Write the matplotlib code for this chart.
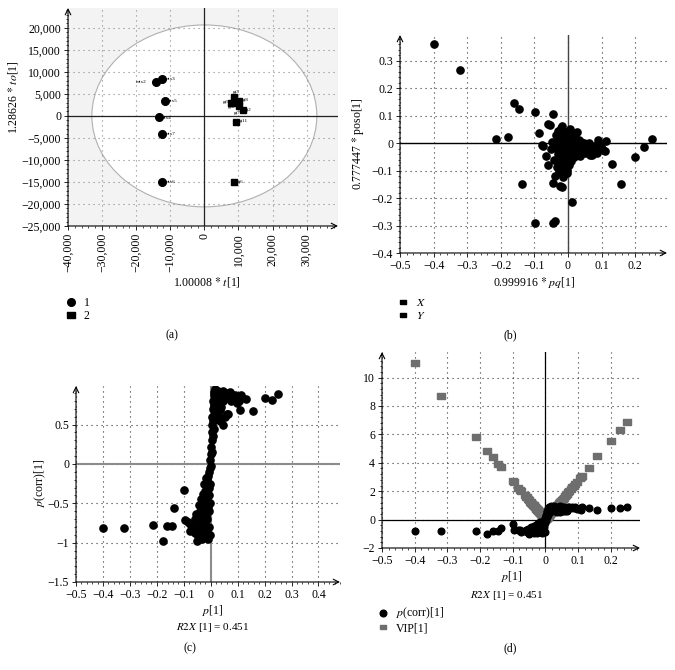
import matplotlib
matplotlib.use('Agg')
import matplotlib.pyplot as plt
from matplotlib.patches import Ellipse
from matplotlib.lines import Line2D
from matplotlib.ticker import FuncFormatter, AutoMinorLocator, MultipleLocator

plt.rcParams['font.family'] = ['Liberation Serif', 'DejaVu Serif']
plt.rcParams['mathtext.fontset'] = 'stix'

# (a) OPLS-DA score plot
mix_names = ['mix2', 'mix3', 'mix5', 'mix4', 'mix7', 'mix6']
mix_t = [-14300, -12300, -11600, -13300, -12300, -12300]
mix_to = [7800, 8300, 3400, -150, -4000, -14900]
gt_names = ['gt3', 'gt5', 'gt8', 'gt4', 'gt7', 'gt2', 'gt11', 'gt6']
gt_t = [8800, 7900, 10200, 9300, 10100, 11200, 9200, 8600]
gt_to = [4300, 3000, 3400, 2900, 2200, 1400, -1450, -15100]

# (b)-(d) loadings of the variables
p1 = [-0.400, -0.320, -0.213, -0.178, -0.162, -0.145, -0.137, -0.098, -0.097, -0.085,
      -0.078, -0.075, -0.064, -0.059, -0.058, -0.054, -0.050, -0.046, -0.045, -0.044,
      -0.043, -0.040, -0.038, -0.037, -0.036, -0.034, -0.032, -0.030, -0.029, -0.028,
      -0.026, -0.025, -0.024, -0.022, -0.021, -0.020, -0.018, -0.018, -0.017, -0.016,
      -0.015, -0.014, -0.013, -0.012, -0.011, -0.010, -0.009, -0.008, -0.007, -0.006,
      -0.005, -0.004, -0.003, -0.003, -0.002, -0.001, 0.000, 0.001, 0.002, 0.003,
      0.004, 0.005, 0.006, 0.007, 0.008, 0.009, 0.010, 0.011, 0.012, 0.013,
      0.015, 0.016, 0.018, 0.019, 0.020, 0.022, 0.024, 0.025, 0.027, 0.028,
      0.030, 0.032, 0.034, 0.036, 0.038, 0.040, 0.042, 0.045, 0.047, 0.050,
      0.053, 0.056, 0.060, 0.063, 0.066, 0.070, 0.073, 0.077, 0.082, 0.086,
      0.091, 0.097, 0.105, 0.109, 0.113, 0.132, 0.158, 0.200, 0.228, 0.250,
      -0.035, -0.027, -0.019, -0.012, -0.006, 0.004, 0.012, 0.021, 0.033, 0.044]
poso1 = [0.360, 0.265, 0.017, 0.021, 0.145, 0.123, -0.147, 0.113, -0.290, 0.037,
         -0.005, -0.010, -0.046, 0.070, -0.079, 0.068, -0.020, 0.005, 0.108, -0.145,
         -0.290, -0.060, -0.121, -0.283, 0.030, -0.020, -0.085, 0.045, -0.040, 0.010,
         -0.070, -0.155, 0.025, -0.010, -0.100, 0.055, 0.063, -0.158, -0.030, -0.050,
         -0.015, -0.122, 0.035, -0.065, 0.000, -0.040, 0.020, -0.090, -0.005, 0.040,
         -0.025, -0.110, -0.097, 0.010, -0.060, 0.030, -0.015, -0.045, 0.005, -0.080,
         0.020, -0.030, 0.050, -0.010, -0.065, 0.015, -0.035, 0.000, -0.216, 0.025,
         -0.020, 0.005, -0.050, 0.030, -0.005, -0.030, 0.010, -0.015, 0.042, -0.040,
         0.000, -0.025, 0.012, -0.045, -0.010, 0.005, -0.030, -0.020, 0.002, -0.035,
         -0.005, -0.022, -0.030, 0.000, -0.043, -0.040, -0.043, -0.012, -0.025, -0.037,
         0.013, -0.010, -0.024, -0.027, 0.009, -0.077, -0.147, -0.052, -0.013, 0.014,
         0.000, -0.105, -0.075, -0.030, -0.008, -0.055, -0.018, 0.018, -0.008, -0.010]
pcorr1 = [-0.81, -0.81, -0.77, -0.98, -0.79, -0.79, -0.56, -0.33, -0.71, -0.74,
          -0.76, -0.85, -0.80, -0.70, -0.88, -0.64, -0.98, -0.92, -0.52, -0.75,
          -0.68, -0.60, -0.82, -0.90, -0.45, -0.95, -0.72, -0.38, -0.86, -0.55,
          -0.62, -0.92, -0.25, -0.78, -0.48, -0.35, -0.18, -0.66, -0.90, -0.42,
          -0.30, -0.85, -0.20, -0.70, -0.55, -0.95, -0.15, -0.60, -0.40, -0.10,
          -0.80, -0.50, -0.25, -0.05, -0.90, 0.05, 0.12, -0.02, 0.22, 0.30,
          0.40, 0.50, 0.60, 0.70, 0.35, 0.80, 0.55, 0.88, 0.45, 0.92,
          0.65, 0.95, 0.75, 0.85, 0.58, 0.90, 0.70, 0.82, 0.93, 0.62,
          0.88, 0.78, 0.85, 0.55, 0.92, 0.72, 0.86, 0.50, 0.80, 0.88,
          0.60, 0.90, 0.63, 0.84, 0.64, 0.88, 0.91, 0.80, 0.86, 0.83,
          0.87, 0.77, 0.80, 0.68, 0.87, 0.82, 0.67, 0.84, 0.81, 0.89,
          -0.65, -0.80, -0.58, -0.45, -0.30, 0.15, 0.75, 0.78, 0.68, 0.93]
vip1 = [11.0, 8.7, 5.8, 4.85, 4.4, 3.9, 3.7, 2.7, 2.65, 2.25,
        2.1, 2.0, 1.75, 1.6, 1.58, 1.48, 1.38, 1.27, 1.24, 1.2,
        1.18, 1.1, 1.05, 1.02, 1.0, 0.94, 0.88, 0.83, 0.8, 0.77,
        0.72, 0.69, 0.66, 0.61, 0.58, 0.55, 0.5, 0.5, 0.47, 0.44,
        0.41, 0.39, 0.36, 0.33, 0.3, 0.28, 0.25, 0.22, 0.19, 0.17,
        0.14, 0.11, 0.08, 0.08, 0.06, 0.03, 0.0, 0.03, 0.06, 0.08,
        0.11, 0.14, 0.17, 0.19, 0.22, 0.25, 0.28, 0.3, 0.33, 0.36,
        0.41, 0.44, 0.5, 0.52, 0.55, 0.61, 0.66, 0.69, 0.75, 0.77,
        0.83, 0.88, 0.94, 1.0, 1.05, 1.1, 1.16, 1.24, 1.3, 1.38,
        1.46, 1.55, 1.65, 1.74, 1.82, 1.93, 2.02, 2.12, 2.26, 2.37,
        2.5, 2.68, 2.9, 3.0, 3.1, 3.6, 4.45, 5.5, 6.3, 6.9,
        0.97, 0.75, 0.52, 0.33, 0.17, 0.11, 0.33, 0.58, 0.91, 1.21]

W, H = 675, 670
fig = plt.figure(figsize=(W / 100, H / 100), dpi=100)

# flat rectangle marker, like the ones in the original software
rect = [(-1, -0.7), (1, -0.7), (1, 0.7), (-1, 0.7), (-1, -0.7)]


def px_axes(x0, y0, x1, y1):
    return fig.add_axes([x0 / W, 1 - y1 / H, (x1 - x0) / W, (y1 - y0) / H])


def ftext(x, y, s, **kw):
    kw.setdefault('fontsize', 8.5)
    fig.text(x / W, 1 - y / H, s, ha='center', va='center', **kw)


def num_fmt(v, pos):
    if abs(v) < 1e-9:
        return '0'
    return f"{round(v, 3):g}".replace('-', '\u2212')


def comma_fmt(v, pos):
    if abs(v) < 1e-9:
        return '0'
    return f"{v:,.0f}".replace('-', '\u2212')


def style_axes(ax, xmaj, ymaj, fmtx, fmty, gridcol='#333333'):
    for s in ax.spines.values():
        s.set_visible(False)
    ax.annotate('', xy=(0, 1.0), xytext=(0, 0), xycoords='axes fraction',
                arrowprops=dict(arrowstyle='->', lw=0.8, color='k',
                                shrinkA=0, shrinkB=0))
    ax.annotate('', xy=(1.0, 0), xytext=(0, 0), xycoords='axes fraction',
                arrowprops=dict(arrowstyle='->', lw=0.8, color='k',
                                shrinkA=0, shrinkB=0))
    ax.xaxis.set_major_locator(MultipleLocator(xmaj))
    ax.yaxis.set_major_locator(MultipleLocator(ymaj))
    ax.xaxis.set_minor_locator(AutoMinorLocator(5))
    ax.yaxis.set_minor_locator(AutoMinorLocator(5))
    ax.xaxis.set_major_formatter(FuncFormatter(fmtx))
    ax.yaxis.set_major_formatter(FuncFormatter(fmty))
    ax.tick_params(which='major', length=3, width=0.6, labelsize=8.5, pad=2)
    ax.tick_params(which='minor', length=1.5, width=0.5)
    ax.grid(True, which='major', linestyle=(0, (1, 3.5)), color=gridcol, lw=0.8)
    ax.set_axisbelow(True)


def put_legend(ax, handles, labels, x, y):
    ax.legend(handles, labels, loc='upper left',
              bbox_to_anchor=(x / W, 1 - y / H), bbox_transform=fig.transFigure,
              frameon=False, fontsize=8.5, handlelength=0.8, handletextpad=0.7,
              labelspacing=0.1, borderpad=0, borderaxespad=0)


# ---------- (a)
ax = px_axes(68, 8, 338, 226)
ax.set_facecolor('#f3f3f3')
ax.add_patch(Ellipse((0, 0), 66000, 41300, facecolor='white', edgecolor='#b0b0b0',
                     lw=0.8, zorder=0))
ax.set_xlim(-40000, 39200)
ax.set_ylim(-25000, 24500)
style_axes(ax, 10000, 5000, comma_fmt, comma_fmt, gridcol='#888888')
ax.tick_params(axis='x', labelrotation=90)
ax.axhline(0, color='#222222', lw=0.9, zorder=2)
ax.axvline(0, color='#222222', lw=0.9, zorder=2)
ax.plot(mix_t, mix_to, 'o', color='k', ms=5.5, zorder=3)
ax.plot(gt_t, gt_to, 's', color='k', ms=5, zorder=3)
mix_off = [(-2600, 0), (700, 0), (700, 0), (700, -300), (700, 0), (700, 0)]
for n, x, y, o in zip(mix_names, mix_t, mix_to, mix_off):
    ax.text(x + o[0], y + o[1], n, fontsize=3.8, va='center',
            ha='right' if o[0] < 0 else 'left')
gt_off = [(-400, 1200), (-2500, 100), (800, 300), (-2400, -900), (-1500, -1500),
          (800, 0), (800, 300), (800, 100)]
for n, x, y, o in zip(gt_names, gt_t, gt_to, gt_off):
    ax.text(x + o[0], y + o[1], n, fontsize=3.8, va='center', ha='left')
ftext(207, 282, r'1.00008 $*$ $t$[1]')
ftext(13, 97, r'1.28626 $*$ $to$[1]', rotation=90)
put_legend(ax, [Line2D([], [], marker='o', ls='', color='k', ms=5.5),
                Line2D([], [], marker=rect, ls='', color='k', ms=5.5)],
           ['1', '2'], 66, 297)
ftext(172, 335, '(a)')

# ---------- (b)
ax = px_axes(400, 35, 667, 253)
ax.set_xlim(-0.5, 0.295)
ax.set_ylim(-0.4, 0.394)
style_axes(ax, 0.1, 0.1, num_fmt, num_fmt)
ax.axhline(0, color='k', lw=1.0, zorder=2)
ax.axvline(0, color='#444444', lw=1.0, zorder=2)
ax.plot(p1, poso1, 'o', color='k', ms=5.2, zorder=3)
ftext(534, 283, r'0.999916 $*$ $pq$[1]')
ftext(358, 144, r'0.777447 $*$ poso[1]', rotation=90)
put_legend(ax, [Line2D([], [], marker=rect, ls='', color='k', ms=5),
                Line2D([], [], marker=rect, ls='', color='k', ms=5)],
           ['$X$', '$Y$'], 398, 297)
ftext(510, 335, '(b)')

# ---------- (c)
ax = px_axes(76, 386, 340, 582)
ax.set_xlim(-0.5, 0.48)
ax.set_ylim(-1.5, 0.99)
style_axes(ax, 0.1, 0.5, num_fmt, num_fmt)
ax.axhline(0, color='#8c8c8c', lw=1.5, zorder=2)
ax.axvline(0, color='#8c8c8c', lw=1.5, zorder=2)
ax.plot(p1, pcorr1, 'o', color='k', ms=5.2, zorder=3)
ftext(40, 483, '$p$(corr)[1]', rotation=90)
ftext(213, 610, '$p$[1]')
ftext(213, 628, '$R2X$ [1] = 0.451', fontsize=8)
ftext(190, 648, '(c)')

# ---------- (d)
ax = px_axes(382, 352, 640, 548)
ax.set_xlim(-0.5, 0.289)
ax.set_ylim(-2, 11.8)
style_axes(ax, 0.1, 2, num_fmt, num_fmt)
ax.axhline(0, color='k', lw=0.9, zorder=2)
ax.axvline(0, color='k', lw=0.9, zorder=2)
ax.plot(p1, vip1, ls='', marker=rect, color='#6e6e6e', ms=5.5, zorder=3)
ax.plot(p1, pcorr1, 'o', color='k', ms=4.8, zorder=4)
ftext(512, 576, '$p$[1]')
ftext(507, 596, '$R2X$ [1] = 0.451', fontsize=8)
put_legend(ax, [Line2D([], [], marker='o', ls='', color='k', ms=4.8),
                Line2D([], [], marker=rect, ls='', color='#6e6e6e', ms=5)],
           ['$p$(corr)[1]', 'VIP[1]'], 378, 606)
ftext(510, 648, '(d)')

fig.savefig('out.png', dpi=100)
